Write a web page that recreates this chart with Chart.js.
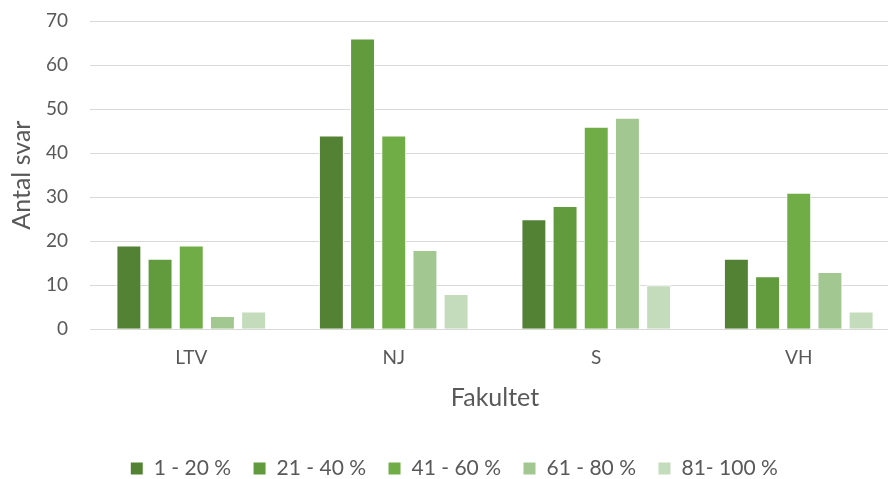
<!DOCTYPE html>
<html>
<head>
<meta charset="utf-8">
<script src="https://cdn.jsdelivr.net/npm/chart.js@4"></script>
<style>
  html, body { margin: 0; padding: 0; background: #fff; }
  /* the original plot runs a little past the right edge of the picture */
  #wrap { width: 888px; height: 479px; overflow: hidden; }
</style>
</head>
<body>
<div id="wrap"><canvas id="chart" width="900" height="479"></canvas></div>
<script>
// Data
const faculties = ['LTV', 'NJ', 'S', 'VH'];
const seriesNames = ['1 - 20 %', '21 - 40 %', '41 - 60 %', '61 - 80 %', '81- 100 %'];
const band1to20 = [19, 44, 25, 16];
const band21to40 = [16, 66, 28, 12];
const band41to60 = [19, 44, 46, 31];
const band61to80 = [3, 18, 48, 13];
const band81to100 = [4, 8, 10, 4];
const yTicks = [0, 10, 20, 30, 40, 50, 60, 70];

const seriesValues = [band1to20, band21to40, band41to60, band61to80, band81to100];
const colors = ['#548235', '#629A3E', '#70AD47', '#A3C791', '#C4DBBC'];

const fontFamily = 'Lato, "Open Sans", sans-serif';
const textColor = '#595959';

const ctx = document.getElementById('chart').getContext('2d');
new Chart(ctx, {
    type: 'bar',
    data: {
        labels: faculties,
        datasets: seriesNames.map((name, i) => ({
            label: name,
            data: seriesValues[i],
            backgroundColor: colors[i],
            borderColor: '#ffffff',
            borderWidth: 1,
            categoryPercentage: 0.77,
            barPercentage: 0.8
        }))
    },
    options: {
        responsive: false,
        animation: false,
        layout: { padding: { left: 8, right: 0, top: 0, bottom: -10 } },
        plugins: {
            legend: {
                position: 'bottom',
                labels: {
                    color: textColor,
                    font: { family: fontFamily, size: 21 },
                    boxWidth: 13,
                    boxHeight: 13,
                    padding: 22
                }
            },
            tooltip: { enabled: false }
        },
        scales: {
            x: {
                grid: { display: false, drawTicks: false },
                border: { color: '#D9D9D9', width: 1 },
                ticks: { color: textColor, font: { family: fontFamily, size: 19 }, padding: 17 },
                title: {
                    display: true,
                    text: 'Fakultet',
                    color: textColor,
                    font: { family: fontFamily, size: 25, lineHeight: 1 },
                    padding: { top: -1, bottom: 26 }
                }
            },
            y: {
                min: 0,
                max: 70,
                afterBuildTicks: axis => { axis.ticks = yTicks.map(v => ({ value: v })); },
                afterFit: axis => {
                    axis.width = 82;
                    axis.paddingTop = 21;
                    axis.paddingBottom = 11;
                },
                grid: { color: '#D9D9D9', drawTicks: false },
                border: { display: false },
                ticks: { color: textColor, font: { family: fontFamily, size: 19 }, padding: 22 },
                title: {
                    display: true,
                    text: 'Antal svar',
                    color: textColor,
                    font: { family: fontFamily, size: 25 },
                    padding: { top: -1, bottom: 0 }
                }
            }
        }
    }
});
</script>
</body>
</html>
